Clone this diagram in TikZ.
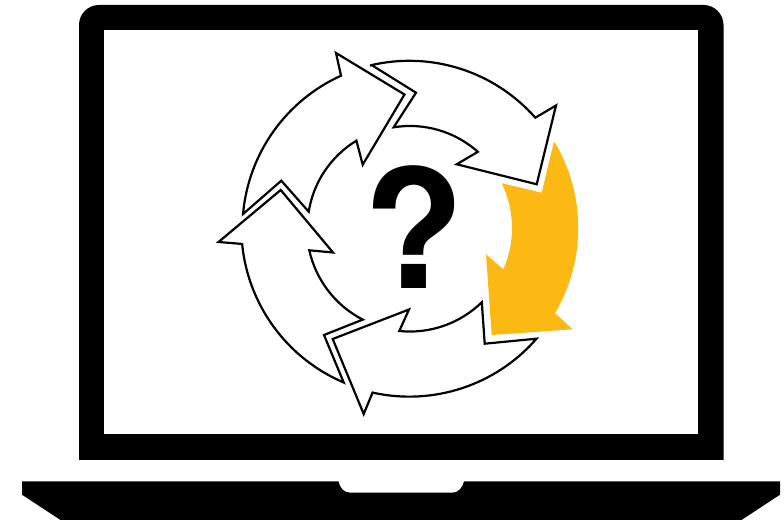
\documentclass[tikz,border=0pt]{standalone}
\usepackage{fontspec}
\setmainfont{TeX Gyre Heros}
\definecolor{flowgold}{HTML}{FDB913}
\tikzset{
	flowarrow/.style={draw=black, fill=white, line width=1.25pt, miter limit=10},
	goldarrow/.style={fill=flowgold},
	laptop/.style={fill=black}
}
\begin{document}
\begin{tikzpicture}[x=0.02cm, y=0.02cm, line join=miter]
	\useasboundingbox (0,0) rectangle (784,520);
	\def\rout{168}\def\rin{102}
	\path
	(79,60) coordinate (B_1)
	(723.5,60) coordinate (B_2)
	(104,86) coordinate (S_1)
	(697.5,490) coordinate (S_2)
	(410,292) coordinate (C)
	;
	% laptop
	\fill[laptop] (B_1) -- (B_2) -- (723.5,495) arc[start angle=0, end angle=90, radius=20] -- (99,515) arc[start angle=90, end angle=180, radius=20] -- cycle;
	\fill[white] (S_1) rectangle (S_2);
	\fill[laptop] (22,38.5) -- (338.5,38.5) .. controls (340,32) and (344,27.3) .. (350,27.3) -- (452.5,27.3) .. controls (458,27.3) and (462.5,32) .. (464,38.5) -- (780,38.5) -- (780,25.3) -- (741.5,0) -- (60.5,0) -- (22,25.3) -- cycle;
	% arrows
	\fill[goldarrow] (553.7,377.3) -- (541.7,327.3) -- (501.7,336.7) arc[start angle=26, end angle=-23.9, radius=\rin] -- (486,265.7) -- (491.7,185) -- (572.7,190.7) -- (555,206.7) arc[start angle=-30.5, end angle=30.7, radius=\rout] -- cycle;
	\draw[flowarrow] (404.5,425.5) -- (336,467) -- (341,444.3) arc[start angle=114.4, end angle=175, radius=\rout] -- (281.3,339.3) -- (308.7,308.3) arc[start angle=170.9, end angle=121.3, radius=\rin] -- (362.7,355.3) -- cycle;
	\draw[flowarrow] (372,454.7) -- (416,427.3) -- (393.7,392.7) arc[start angle=99.2, end angle=48.3, radius=\rin] -- (456.7,355.7) -- (536.7,335.7) -- (556,414.5) -- (535.3,402.3) arc[start angle=41.4, end angle=103.5, radius=\rout] -- cycle;
	\draw[flowarrow] (332.7,181) -- (409,210.5) -- (399.3,189) arc[start angle=264.1, end angle=314.3, radius=103] -- (484.7,176.3) -- (536.5,181.3) arc[start angle=-41, end angle=-102.6, radius=168.5] -- (363.7,106) -- cycle;
	\draw[flowarrow] (280.7,330) -- (333,267.5) -- (309.3,269.7) arc[start angle=192.5, end angle=242.8, radius=103] -- (324,185) -- (343.7,137.5) arc[start angle=246.9, end angle=185.6, radius=168.5] -- (218.5,278) -- cycle;
	\node[inner sep=0pt, font=\fontsize{94}{94}\selectfont\bfseries] (Q) at (414,293) {?};
\end{tikzpicture}
\end{document}
